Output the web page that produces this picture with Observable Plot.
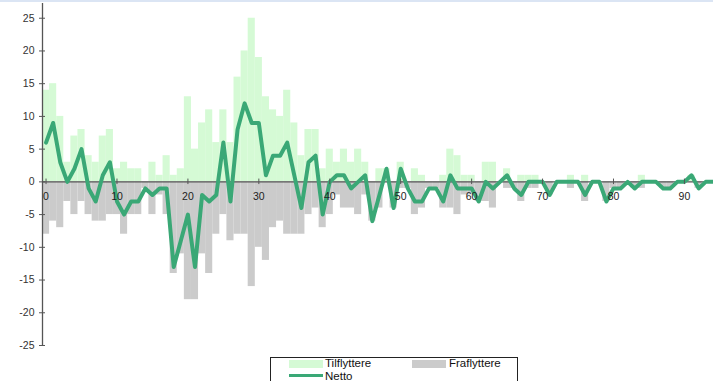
<!DOCTYPE html>
<html>
<head>
<meta charset="utf-8">
<script src="https://cdn.jsdelivr.net/npm/d3@7"></script>
<script src="https://cdn.jsdelivr.net/npm/@observablehq/plot@0.6"></script>
<style>
  html, body { margin: 0; padding: 0; background: #fff; }
  body { position: relative; width: 713px; height: 381px; overflow: hidden; font-family: "Liberation Sans", Arial, sans-serif; }
  #topband { position: absolute; left: 0; top: 0; width: 713px; height: 2px; background: #dbe5f4; }
  #chart { position: absolute; left: 0; top: 0; }
  .lg { position: absolute; }
  .lgt { position: absolute; font-size: 11.5px; line-height: 11.5px; color: #111; white-space: nowrap; }
</style>
</head>
<body>
<div id="chart"></div>
<div id="topband"></div>
<div class="lg" style="left:270px; top:357px; width:248px; height:30px; border:1px solid #222; box-sizing:border-box;"></div>
<div class="lg" id="swTil" style="left:289px; top:359.5px; width:34px; height:8.5px;"></div>
<div class="lgt" id="txTil" style="left:325px; top:358px;"></div>
<div class="lg" id="swFra" style="left:412px; top:359.5px; width:34px; height:8.5px;"></div>
<div class="lgt" id="txFra" style="left:449px; top:358px;"></div>
<div class="lg" id="swNet" style="left:289px; top:373.5px; width:34px; height:3.5px;"></div>
<div class="lgt" id="txNet" style="left:325px; top:370.5px;"></div>
<script>
// ---- data ----
const ages = [0,1,2,3,4,5,6,7,8,9,10,11,12,13,14,15,16,17,18,19,20,21,22,23,24,25,26,27,28,29,30,31,32,33,34,35,36,37,38,39,40,41,42,43,44,45,46,47,48,49,50,51,52,53,54,55,56,57,58,59,60,61,62,63,64,65,66,67,68,69,70,71,72,73,74,75,76,77,78,79,80,81,82,83,84,85,86,87,88,89,90,91,92,93,94];
const tilflyttere = [14,15,10,3,7,8,4,3,7,8,2,3,2,2,0,3,1,4,1,2,13,5,9,11,6,11,6,16,20,25,19,13,11,10,14,9,4,8,8,2,5,3,5,3,5,3,0,2,2,0,3,0,2,1,0,0,1,5,4,1,1,0,3,3,0,2,0,1,1,1,0,0,0,0,1,0,1,0,0,0,0,0,0,0,1,0,0,0,0,0,0,1,0,0,0];
const fraflyttere = [8,6,7,3,5,3,5,6,6,5,5,8,5,5,1,5,2,5,14,11,18,18,11,14,8,5,9,8,8,16,10,12,7,6,8,8,8,5,4,7,5,2,4,4,5,2,6,4,0,4,1,1,5,4,1,1,4,4,5,2,2,3,3,4,0,1,1,3,1,1,0,2,0,0,1,0,3,0,0,3,1,1,0,1,1,0,0,1,1,0,0,0,1,0,0];
const netto = [6,9,3,0,2,5,-1,-3,1,3,-3,-5,-3,-3,-1,-2,-1,-1,-13,-9,-5,-13,-2,-3,-2,6,-3,8,12,9,9,1,4,4,6,1,-4,3,4,-5,0,1,1,-1,0,1,-6,-2,2,-4,2,-1,-3,-3,-1,-1,-3,1,-1,-1,-1,-3,0,-1,0,1,-1,-2,0,0,0,-2,0,0,0,0,-2,0,0,-3,-1,-1,0,-1,0,0,0,-1,-1,0,0,1,-1,0,0];
const xTicks = [0,10,20,30,40,50,60,70,80,90];
const yTicks = [-25,-20,-15,-10,-5,0,5,10,15,20,25];
const seriesNames = ["Tilflyttere", "Fraflyttere", "Netto"];

// ---- style ----
const colTil = "#d5fad5";
const colFra = "#cbcbcb";
const colNet = "#3aa876";
const axisCol = "#555";

const W = 713, H = 352, mL = 42, mR = 0, mT = 3, mB = 7;
const xDomain = [-0.5, 94.1];
const yDomain = [-25, 27.25];

const rows = ages.map((a, i) => ({age: a, til: tilflyttere[i], fra: -fraflyttere[i], net: netto[i]}));

// position of the zero line, used to lift the x axis onto it
const yPix = d3.scaleLinear().domain(yDomain).range([H - mB, mT]);
const xAxisShift = yPix(0) - (H - mB) - 2.8;

const chart = Plot.plot({
  width: W, height: H,
  marginLeft: mL, marginRight: mR, marginTop: mT, marginBottom: mB,
  style: {fontFamily: '"Liberation Sans", Arial, sans-serif', fontSize: "10.5px", color: "#333", background: "transparent"},
  x: {type: "linear", domain: xDomain},
  y: {type: "linear", domain: yDomain},
  marks: [
    Plot.rect(rows, {x1: d => d.age - 0.5, x2: d => d.age + 0.5, y1: 0, y2: "til", fill: colTil}),
    Plot.rect(rows, {x1: d => d.age - 0.5, x2: d => d.age + 0.5, y1: 0, y2: "fra", fill: colFra}),
    Plot.ruleY([0], {stroke: axisCol, strokeWidth: 1.3}),
    Plot.ruleX([xDomain[0]], {stroke: axisCol, strokeWidth: 1.3}),
    Plot.line(rows, {x: "age", y: "net", stroke: colNet, strokeWidth: 4, strokeLinejoin: "round", strokeLinecap: "round"}),
    Plot.axisY({ticks: yTicks, tickSize: 6, dx: 3, tickPadding: 5, tickFormat: d => String(d), stroke: axisCol, fill: "#333", label: null}),
    Plot.axisX({ticks: xTicks, tickSize: 5.5, dy: xAxisShift, tickPadding: 7.5, tickFormat: d => String(d), stroke: axisCol, fill: "#222", label: null})
  ]
});
document.getElementById("chart").appendChild(chart);

document.getElementById("swTil").style.background = colTil;
document.getElementById("swFra").style.background = colFra;
document.getElementById("swNet").style.background = colNet;
document.getElementById("txTil").textContent = seriesNames[0];
document.getElementById("txFra").textContent = seriesNames[1];
document.getElementById("txNet").textContent = seriesNames[2];
</script>
</body>
</html>
